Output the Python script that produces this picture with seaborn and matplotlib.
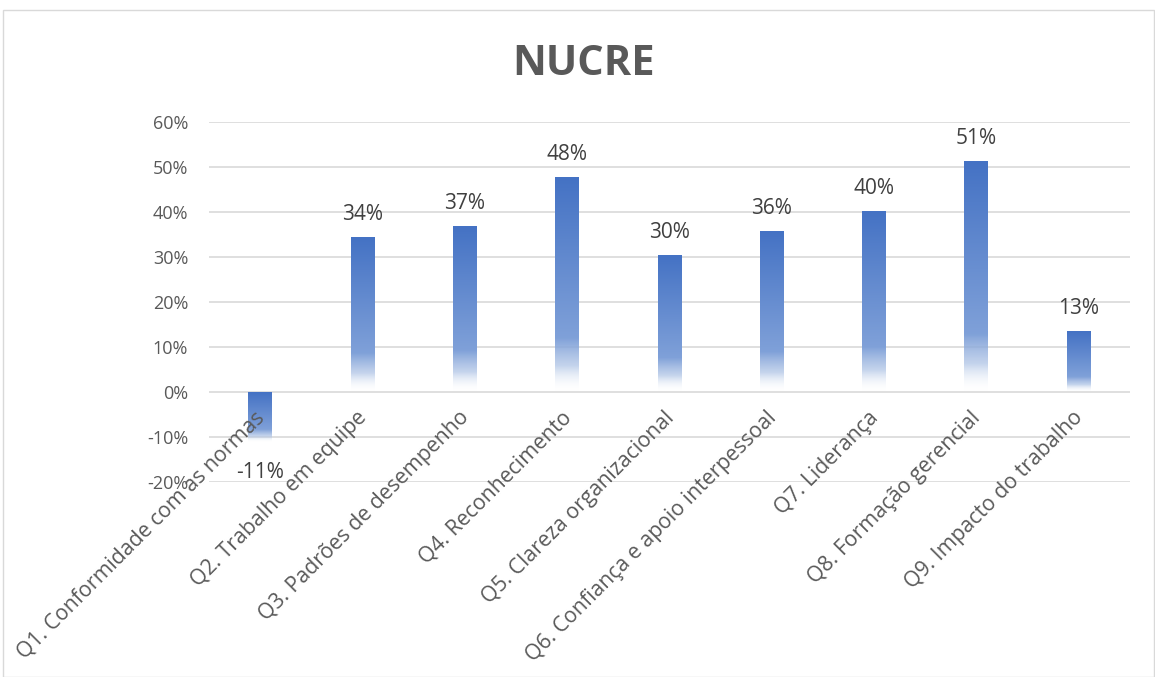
import numpy as np
import pandas as pd
import seaborn as sns
import matplotlib.pyplot as plt
import matplotlib.transforms as mtransforms
from matplotlib.colors import LinearSegmentedColormap
from matplotlib.patches import Rectangle

categories = ["Q1. Conformidade com as normas", "Q2. Trabalho em equipe",
              "Q3. Padrões de desempenho", "Q4. Reconhecimento",
              "Q5. Clareza organizacional", "Q6. Confiança e apoio interpessoal",
              "Q7. Liderança", "Q8. Formação gerencial", "Q9. Impacto do trabalho"]
values = [-0.11, 0.344, 0.368, 0.477, 0.304, 0.357, 0.401, 0.512, 0.135]
labels = ["-11%", "34%", "37%", "48%", "30%", "36%", "40%", "51%", "13%"]
yticks = [-0.2, -0.1, 0, 0.1, 0.2, 0.3, 0.4, 0.5, 0.6]
title = "NUCRE"

sns.set_theme(style="white")
plt.rcParams['font.family'] = ['Open Sans', 'DejaVu Sans']
gray = "#595959"

fig = plt.figure(figsize=(11.55, 6.77), dpi=100)
ax = fig.add_axes([0.181, 0.288, 0.797, 0.532])
df = pd.DataFrame({"cat": categories, "val": values})
sns.barplot(data=df, x="cat", y="val", ax=ax, width=0.23, color="#4472C4", zorder=2)

# gradient fill: solid blue on top fading to white near the bottom
cmap = LinearSegmentedColormap.from_list("g", [
    (0.0, (1, 1, 1, 0.0)),
    (0.12, (0.62, 0.72, 0.88, 0.6)),
    (0.25, (0.50, 0.63, 0.85, 1.0)),
    (1.0, (0.267, 0.447, 0.769, 1.0))])
grad = np.linspace(0, 1, 256).reshape(-1, 1)
for p in ax.patches:
    x0, y0 = p.get_x(), p.get_y()
    w, h = p.get_width(), p.get_height()
    ylo, yhi = min(y0, y0 + h), max(y0, y0 + h)
    p.set_facecolor("none")
    p.set_edgecolor("none")
    im = ax.imshow(grad, cmap=cmap, origin="lower", aspect="auto",
                   extent=[x0, x0 + w, ylo, yhi], zorder=2, interpolation="bilinear")
    clip = Rectangle((x0, ylo), w, yhi - ylo, transform=ax.transData)
    im.set_clip_path(clip)

for i, (v, lab) in enumerate(zip(values, labels)):
    if v >= 0:
        ax.annotate(lab, (i, v), xytext=(0, 9), textcoords="offset points",
                    ha="center", va="bottom", fontsize=15, color="#404040")
    else:
        ax.annotate(lab, (i, v), xytext=(0, -15), textcoords="offset points",
                    ha="center", va="top", fontsize=15, color="#404040")

ax.set_xlim(-0.5, len(categories) - 0.5)
ax.set_ylim(-0.2, 0.6)
ax.set_yticks(yticks)
ax.set_yticklabels([f"{int(round(t*100))}%" for t in yticks], fontsize=13, color=gray)
# category axis crosses at zero, labels hang from there
ax.spines['bottom'].set_position(('data', 0))
ax.set_xticks(range(len(categories)))
ax.set_xticklabels(categories, rotation=45, ha="right", va="top",
                   rotation_mode="anchor", fontsize=15.3, color=gray)
ax.tick_params(axis="x", pad=11, length=0)
ax.tick_params(axis="y", length=0, pad=15)
shift = mtransforms.ScaledTranslation(-6 / 100, 0, fig.dpi_scale_trans)
for t in ax.get_xticklabels():
    t.set_transform(t.get_transform() + shift)
ax.yaxis.grid(True, color="#D9D9D9", linewidth=1.2, zorder=0)
ax.set_axisbelow(True)
ax.xaxis.set_zorder(3)
for s in ax.spines.values():
    s.set_visible(False)
ax.set_xlabel("")
ax.set_ylabel("")

fig.text(0.505, 0.905, title, ha="center", va="center", fontsize=30,
         fontweight="bold", color=gray)

border = Rectangle((0.003, 0.0), 0.996, 0.985, transform=fig.transFigure,
                   fill=False, edgecolor="#D9D9D9", linewidth=1)
fig.patches.append(border)

fig.savefig("out.png", dpi=100)
